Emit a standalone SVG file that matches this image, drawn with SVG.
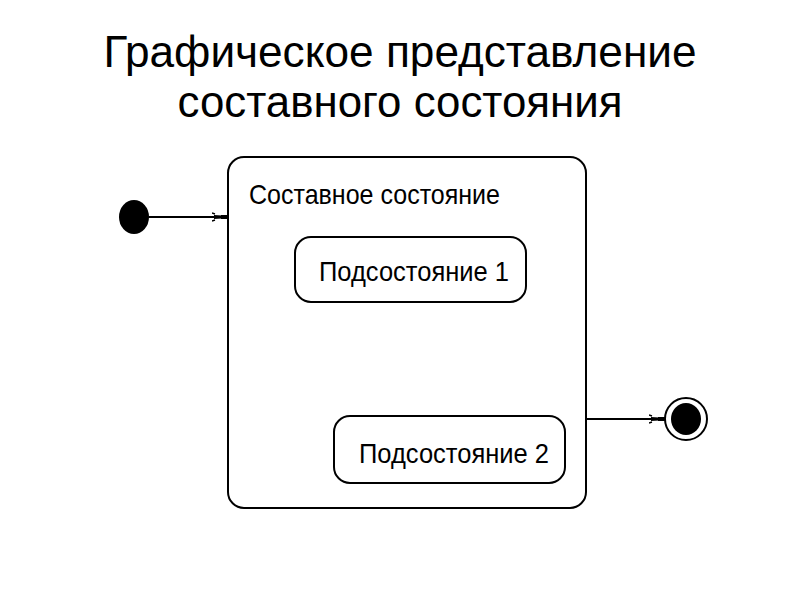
<svg xmlns="http://www.w3.org/2000/svg" width="800" height="600" viewBox="0 0 800 600">
<defs>
<style>
.title{font-family:"Liberation Sans",Arial,sans-serif;font-size:44px;fill:#000;text-anchor:middle}
.lbl{font-family:"Liberation Sans Narrow","Liberation Sans",Arial,sans-serif;font-size:28px;fill:#000}
.box{fill:#fff;stroke:#000;stroke-width:2}
.edge{stroke:#000;stroke-width:2;fill:none}
</style>
<marker id="arr" viewBox="0 0 16 10" refX="16" refY="5" markerWidth="16" markerHeight="10" markerUnits="userSpaceOnUse" orient="auto">
<path d="M0,1 L3,2 M0,9 L3,8" stroke="#000" stroke-width="1.5" fill="none"/>
<path d="M2,3 L10,3.5 L10,6.5 L2,7 Z" fill="#000"/>
<rect x="9" y="3" width="7" height="4" fill="#000"/>
</marker>
</defs>
<rect width="800" height="600" fill="#fff"/>
<text class="title" x="400" y="67" textLength="593" lengthAdjust="spacingAndGlyphs">Графическое представление</text>
<text class="title" x="400" y="117" textLength="445" lengthAdjust="spacingAndGlyphs">составного состояния</text>
<g id="composite">
<rect class="box" x="228" y="157" width="358" height="351" rx="16" ry="16"/>
<text class="lbl" x="249" y="204" textLength="251" lengthAdjust="spacingAndGlyphs">Составное состояние</text>
</g>
<g id="sub1">
<rect class="box" x="295" y="237" width="231" height="65" rx="16" ry="16"/>
<text class="lbl" x="319" y="281" textLength="190" lengthAdjust="spacingAndGlyphs">Подсостояние 1</text>
</g>
<g id="sub2">
<rect class="box" x="334" y="416" width="231" height="67" rx="16" ry="16"/>
<text class="lbl" x="359" y="463" textLength="190" lengthAdjust="spacingAndGlyphs">Подсостояние 2</text>
</g>
<g id="initial">
<ellipse cx="134" cy="217" rx="15" ry="17" fill="#000"/>
</g>
<g id="final">
<circle cx="686" cy="419" r="21" fill="#fff" stroke="#000" stroke-width="2"/>
<ellipse cx="686" cy="419" rx="15" ry="16" fill="#000"/>
</g>
<g id="connectors">
<line class="edge" x1="149" y1="217" x2="228" y2="217" marker-end="url(#arr)"/>
<line class="edge" x1="586" y1="419" x2="665" y2="419" marker-end="url(#arr)"/>
</g>
</svg>
